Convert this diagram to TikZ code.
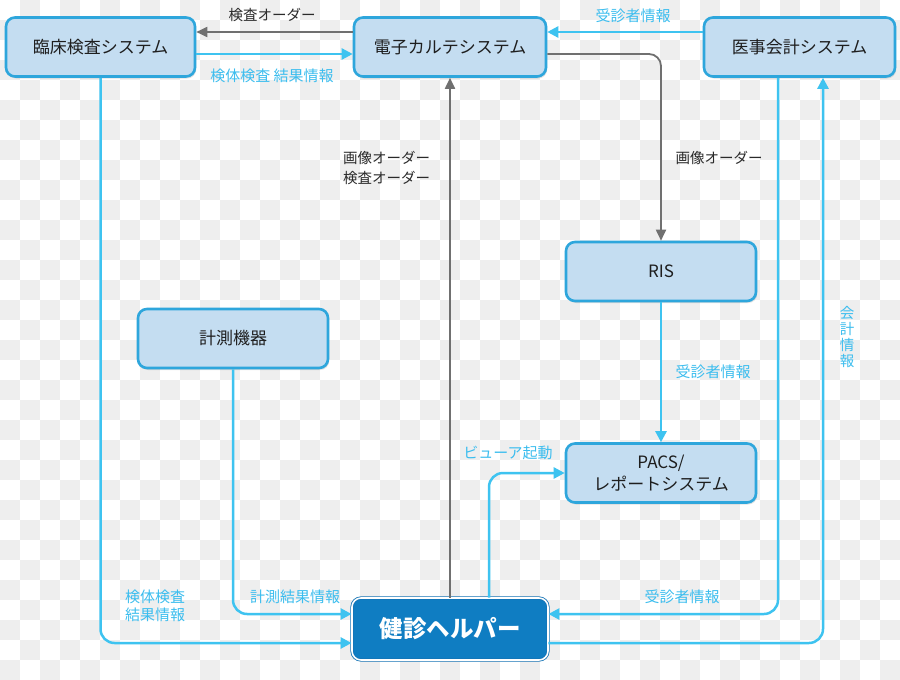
\documentclass[tikz,border=0pt]{standalone}
\usepackage{fontspec}
\newfontfamily\cjk{Noto Sans CJK JP}
\usetikzlibrary{arrows.meta,shadows,calc}
\definecolor{boxfill}{HTML}{C4DDF1}
\definecolor{boxborder}{HTML}{2EA6DC}
\definecolor{blueline}{HTML}{3EC3F0}
\definecolor{bluetext}{HTML}{3BBDEE}
\definecolor{grayline}{HTML}{707070}
\definecolor{graytext}{HTML}{2A2A2A}
\definecolor{textdark}{HTML}{1E1E1E}
\definecolor{helperfill}{HTML}{0F7DC2}
\definecolor{helperedge}{HTML}{1473B5}
\definecolor{checker}{HTML}{EEEEEE}
\tikzset{
  sysbox/.style={rounded corners=9pt, draw=boxborder, line width=2.6pt, fill=boxfill,
    minimum height=59pt, inner sep=0pt, align=center, text=textdark,
    font=\cjk\fontsize{17}{22}\selectfont,
    drop shadow={opacity=0.22, shadow xshift=1.2pt, shadow yshift=-2pt}},
  helperbox/.style={rounded corners=9pt, draw=helperedge, double=white, double distance=1.6pt,
    line width=0.8pt, fill=helperfill, minimum width=196pt, minimum height=62pt,
    inner sep=0pt, text=white, font=\cjk\bfseries\fontsize{23.5}{27}\selectfont},
  blab/.style={font=\cjk\fontsize{15}{18}\selectfont, text=bluetext, inner sep=0pt},
  glab/.style={font=\cjk\fontsize{14.5}{20}\selectfont, text=graytext, inner sep=0pt},
  bl/.style={draw=blueline, line width=2.5pt, rounded corners=14pt,
    -{Triangle[length=11pt,width=11pt]}},
  gl/.style={draw=grayline, line width=1.8pt, rounded corners=12pt,
    -{Triangle[length=11pt,width=10pt]}},
}
\begin{document}
\begin{tikzpicture}[x=1pt,y=-1pt]
\useasboundingbox (0,0) rectangle (900,680);
% checkered background
\fill[white] (0,0) rectangle (900,680);
\foreach \j in {0,...,33}{
  \pgfmathtruncatemacro\s{mod(\j+1,2)}
  \pgfmathtruncatemacro\t{\s+2}
  \foreach \i in {\s,\t,...,44}{
    \fill[checker] (\i*20,\j*20) rectangle ++(20,20);
  }
}
% nodes
\node[sysbox, minimum width=189pt] (rinsho) at (100.5,47) {臨床検査システム};
\node[sysbox, minimum width=192pt] (karte) at (450,47) {電子カルテシステム};
\node[sysbox, minimum width=191pt] (iji) at (799.5,47) {医事会計システム};
\node[sysbox, minimum width=190pt] (ris) at (661,271.5) {RIS};
\node[sysbox, minimum width=190pt] (keisoku) at (233,338.5) {計測機器};
\node[sysbox, minimum width=190pt] (pacs) at (661,473) {PACS/\\レポートシステム};
\node[helperbox] (helper) at (450,629) {健診ヘルパー};
% connectors
\draw[gl] ([yshift=15pt]karte.west) -- ([yshift=15pt]rinsho.east);
\draw[bl] ([yshift=-7pt]rinsho.east) -- ([yshift=-7pt]karte.west);
\draw[bl] ([yshift=15pt]iji.west) -- ([yshift=15pt]karte.east);
\draw[gl] ([yshift=-7pt]karte.east) -| (ris.north);
\draw[gl] (helper.north) -- (karte.south);
\draw[bl] (ris.south) -- (pacs.north);
\draw[bl] ([xshift=39pt]helper.north) |- (pacs.west);
\draw[bl] (rinsho.south) |- ([yshift=-14pt]helper.west);
\draw[bl] (keisoku.south) |- ([yshift=15pt]helper.west);
\draw[bl] ([xshift=-21.5pt]iji.south) |- ([yshift=15pt]helper.east);
\draw[bl] ([yshift=-14pt]helper.east) -| ([xshift=23.5pt]iji.south);
% labels
\node[glab] (l1) at (272,15) {検査オーダー};
\node[blab] (l2) at (272,76) {検体検査 結果情報};
\node[blab] (l3) at (633,16) {受診者情報};
\node[glab] (l4) at (719,158) {画像オーダー};
\node[glab, align=left, anchor=west] (l5) at (343,168) {画像オーダー\\検査オーダー};
\node[blab] (l6) at (713,372) {受診者情報};
\node[blab] (l7) at (508,453) {ビューア起動};
\node[blab, align=left, anchor=west] (l8) at (125,606) {検体検査\\結果情報};
\node[blab] (l9) at (295,597) {計測結果情報};
\node[blab] (l10) at (682,597) {受診者情報};
\node[blab, align=center, font=\cjk\fontsize{14.5}{16}\selectfont] (l11) at (847,337) {会\\計\\情\\報};
\end{tikzpicture}
\end{document}
